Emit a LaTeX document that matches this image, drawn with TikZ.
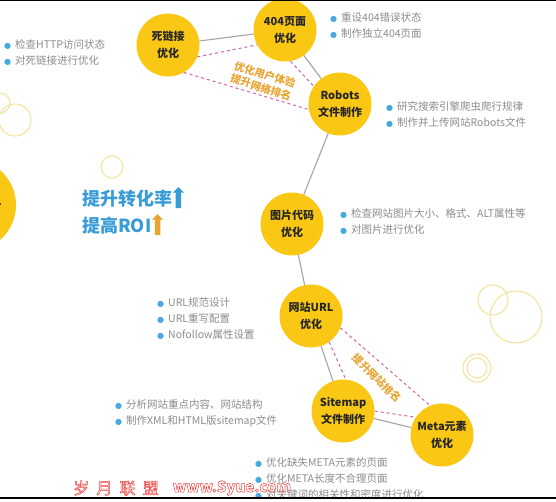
\documentclass[tikz,border=0pt]{standalone}
\usepackage{fontspec}
\setmainfont{Noto Sans CJK SC}
\newfontfamily\symfont{DejaVu Sans}
\usetikzlibrary{shapes.arrows,positioning}

\definecolor{ballyellow}{RGB}{250,200,20}
\definecolor{linkgrey}{RGB}{165,165,165}
\definecolor{hintpink}{RGB}{215,95,165}
\definecolor{gainorange}{RGB}{232,165,50}
\definecolor{notegrey}{RGB}{140,140,140}
\definecolor{dotblue}{RGB}{70,170,225}
\definecolor{roiblue}{RGB}{55,155,215}
\definecolor{ringyellow}{RGB}{245,226,150}
\definecolor{markred}{RGB}{235,60,60}
\newcommand{\bdot}{\textcolor{dotblue}{\symfont\fontsize{8}{8}\selectfont ●}\hspace{4pt}}
\newcommand{\outlined}[1]{\special{pdf:literal direct 1 Tr 0.5 w}#1\special{pdf:literal direct 0 Tr}}

\begin{document}
\begin{tikzpicture}[x=1pt, y=-1pt,
    ball/.style={circle, fill=ballyellow, minimum size=63pt, inner sep=0pt, align=center,
        text=black!85, font=\fontsize{11}{16.5}\selectfont\bfseries},
    link/.style={draw=linkgrey, line width=1.1pt},
    hint/.style={draw=hintpink, line width=1pt, dash pattern=on 3pt off 3pt},
    gain/.style={text=gainorange, align=center, inner sep=0pt, font=\fontsize{10.5}{13}\selectfont\bfseries},
    note/.style={anchor=west, align=left, inner sep=0pt, text=notegrey, font=\fontsize{10.5}{16}\selectfont},
    roi/.style={anchor=west, inner sep=0pt, text=roiblue, font=\fontsize{18}{22}\selectfont\bfseries},
    uparrow/.style={single arrow, shape border rotate=90, inner xsep=2.6pt, inner ysep=0pt,
        minimum height=21pt, single arrow head extend=2.6pt, single arrow head indent=0pt},
    ring/.style={draw=ringyellow, line width=1pt}]

    \useasboundingbox (0,0) rectangle (556,501);
    \clip (0,0) rectangle (556,501);
    \fill[white] (0,0) rectangle (556,501);

    % decoration
    \draw[ring] (0,103) circle (10);
    \draw[ring] (15,120) circle (16);
    \draw[ring] (112,167) circle (11);
    \draw[ring] (493,300) circle (15);
    \draw[ring] (516,317) circle (26);
    \draw[ring] (477,368) circle (14);
    \draw[ring] (477,368) circle (10);

    % steps
    \draw(-30,205) node[ball, minimum size=92pt] (kw) {\hspace*{8pt}关键词分析};
    \draw(168,45) node[ball] (dead) {死链接\\优化};
    \draw(285,30) node[ball] (nf) {404页面\\优化};
    \draw(340,104) node[ball] (robots) {Robots\\文件制作};
    \draw(292,224) node[ball] (img) {图片代码\\优化};
    \draw(311,316) node[ball] (url) {网站URL\\优化};
    \draw(343,411) node[ball] (sitemap) {Sitemap\\文件制作};
    \draw(442,435) node[ball] (meta) {Meta元素\\优化};

    \draw[link] (dead) -- (nf);
    \draw[link] (nf) -- (robots);
    \draw[link] (robots) -- (img);
    \draw[link] (img) -- (url);
    \draw[link] (url) -- (sitemap);
    \draw[link] (sitemap) -- (meta);

    \draw[hint] (dead.-22) -- (nf.208);
    \draw[hint] (dead.-60) -- (robots.190);
    \draw[hint] (nf.-80) -- (robots.146);
    \draw[hint] (url.-22) -- (meta.112);
    \draw[hint] (url.-55) -- (sitemap.85);
    \draw[hint] (sitemap.0) -- (meta.146);

    \draw(263,81) node[gain, rotate=-17] (ux) {优化用户体验\\提升网络排名};
    \draw(377,378) node[gain, rotate=-45] (rank) {提升网站排名};

    % notes
    \draw(4,53) node[note] (deadnote) {\bdot 检查HTTP访问状态\\\bdot 对死链接进行优化};
    \draw(330,26) node[note] (nfnote) {\bdot 重设404错误状态\\\bdot 制作独立404页面};
    \draw(386,115) node[note] (robotsnote) {\bdot 研究搜索引擎爬虫爬行规律\\\bdot 制作并上传网站Robots文件};
    \draw(340,222) node[note] (imgnote) {\bdot 检查网站图片大小、格式、ALT属性等\\\bdot 对图片进行优化};
    \draw(157,319) node[note] (urlnote) {\bdot URL规范设计\\\bdot URL重写配置\\\bdot Nofollow属性设置};
    \draw(115,413) node[note] (sitemapnote) {\bdot 分析网站重点内容、网站结构\\\bdot 制作XML和HTML版sitemap文件};
    \draw(255,479) node[note] (metanote) {\bdot 优化缺失META元素的页面\\\bdot 优化META长度不合理页面\\\bdot 对关键词的相关性和密度进行优化};

    \draw(82,199) node[roi] (conv) {提升转化率};
    \draw(82,226) node[roi] (roi) {提高ROI};
    \node[uparrow, fill=roiblue, right=3pt of conv] (convup) {};
    \node[uparrow, fill=gainorange, right=3pt of roi] (roiup) {};

    % watermark
    \draw(116,488) node[text=markred, font=\fontsize{16}{16}\selectfont] (wmcn) {\outlined{岁\ \ 月\ \ 联\ \ 盟}};
    \draw(232,488) node[text=markred, font=\fontsize{15}{15}\selectfont\bfseries] (wmurl) {\outlined{www.Syue.com}};

    \fill (0,0) rectangle (556,1.2);
    \fill (0,497.3) rectangle (556,499);

\end{tikzpicture}
\end{document}
